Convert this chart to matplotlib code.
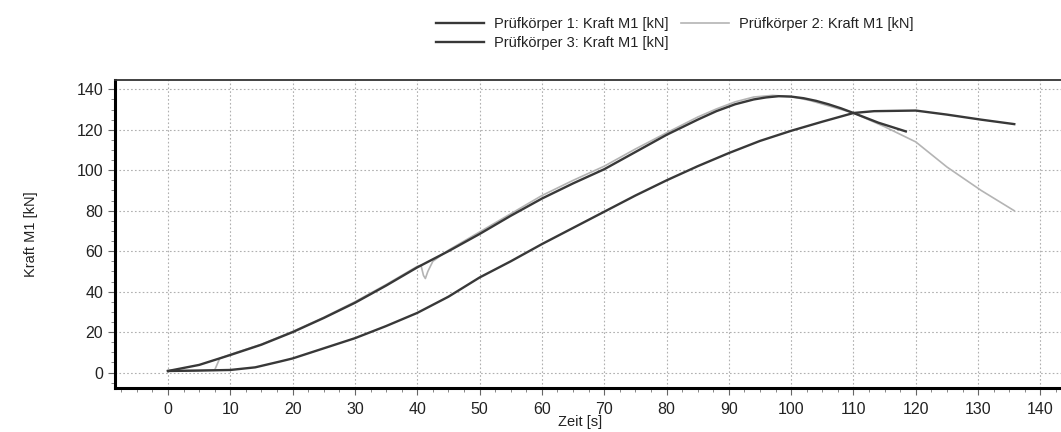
import matplotlib.pyplot as plt
from matplotlib.ticker import MultipleLocator

# Prüfkörper 1
p1_zeit = [0, 5, 10, 15, 20, 25, 30, 35, 40, 45, 50, 55, 60, 65, 70, 75,
           80, 85, 88, 91, 94, 96, 98, 100, 102, 104, 106, 108, 110, 114,
           118.4]
p1_kraft = [0.8, 3.8, 8.7, 13.8, 20, 27, 34.5, 43, 52, 60, 68.5, 77.5, 86,
            93.5, 100.5, 109, 117.5, 125, 129.2, 132.6, 135, 136, 136.6,
            136.4, 135.6, 134.3, 132.6, 130.6, 128.3, 123.5, 119.2]

# Prüfkörper 2
p2_zeit = [0, 7.5, 8.3, 10, 15, 20, 25, 30, 35, 40, 40.6, 41.0, 41.3, 41.7,
           42.5, 45, 50, 55, 60, 65, 70, 75, 80, 85, 88, 91, 94, 97, 100,
           103, 106, 110, 115, 120, 125, 130.5, 135.8]
p2_kraft = [0.8, 1.3, 7, 9, 14, 20.3, 27.3, 35, 43.5, 52.5, 53, 48, 46.5,
            50, 55, 60.5, 69.5, 78.5, 87.5, 95, 102, 110.5, 118.5, 126.3,
            130.3, 133.8, 136.2, 137, 136.4, 134.5, 131.8, 128.3, 121.5,
            114, 101.6, 90, 80]

# Prüfkörper 3
p3_zeit = [0, 5, 10, 14, 18, 20, 23, 26, 30, 35, 40, 45, 50, 55, 60, 65, 70,
           75, 80, 85, 90, 95, 100, 105, 110, 113.3, 120, 125, 130.5, 135.8]
p3_kraft = [0.8, 1.0, 1.3, 2.6, 5.5, 7, 10, 13, 17, 23, 29.5, 37.5, 47, 55,
            63.5, 71.5, 79.5, 87.5, 95, 102, 108.5, 114.5, 119.5, 124,
            128.3, 129.2, 129.5, 127.5, 125, 122.8]

labels = [
    "Prüfkörper 1: Kraft M1 [kN]",
    "Prüfkörper 2: Kraft M1 [kN]",
    "Prüfkörper 3: Kraft M1 [kN]",
]

plt.rcParams["font.family"] = ["Liberation Sans", "DejaVu Sans"]

fig = plt.figure(figsize=(10.61, 4.32), dpi=100)
ax = fig.add_axes([0.1084, 0.1019, 0.8916, 0.7129])

dark = "#383838"
light = "#b4b4b4"

l1, = ax.plot(p1_zeit, p1_kraft, color=dark, linewidth=1.7, zorder=3)
l2, = ax.plot(p2_zeit, p2_kraft, color=light, linewidth=1.2, zorder=2)
l3, = ax.plot(p3_zeit, p3_kraft, color=dark, linewidth=1.7, zorder=3)

ax.set_xlim(-8.5, 143.3)
ax.set_ylim(-7.6, 144.6)

ax.xaxis.set_minor_locator(MultipleLocator(2.5))
ax.yaxis.set_minor_locator(MultipleLocator(5))

ax.set_xticks(range(0, 141, 10))
ax.set_yticks(range(0, 141, 20))

ax.tick_params(axis="both", which="major", direction="out", length=5,
               width=0.8, color="#666666", labelsize=11.5, labelcolor="#222222")
ax.tick_params(axis="both", which="minor", direction="out", length=3,
               width=0.7, color="#888888")
ax.tick_params(axis="x", which="major", pad=5)

ax.grid(True, which="major", linestyle=(0, (1.5, 2)), color="#b0b0b0",
        linewidth=0.8)

ax.spines["left"].set_linewidth(2.2)
ax.spines["bottom"].set_linewidth(2.2)
ax.spines["top"].set_linewidth(1.3)
ax.spines["top"].set_color("#333333")
ax.spines["right"].set_visible(False)

ax.set_xlabel("Zeit [s]", fontsize=10.5, color="#222222")
ax.xaxis.set_label_coords((580 - 115) / 946, -0.088)
ax.set_ylabel("Kraft M1 [kN]", fontsize=10.5, color="#222222")
ax.yaxis.set_label_coords(-0.081, 0.5)

fig.legend(
    [l1, l3, l2],
    [labels[0], labels[2], labels[1]],
    ncol=2,
    loc="upper left",
    bbox_to_anchor=(423 / 1061, 1 - 4 / 432),
    frameon=False,
    fontsize=10.5,
    handlelength=3.3,
    handletextpad=0.7,
    columnspacing=0.8,
    labelspacing=0.35,
    labelcolor="#222222",
)

fig.savefig("out.png", dpi=100)
